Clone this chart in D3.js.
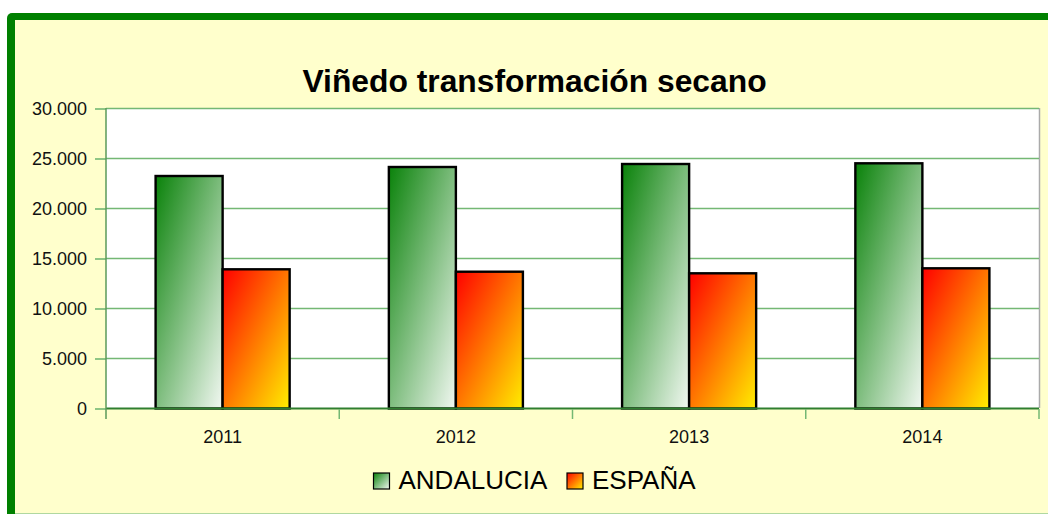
<!DOCTYPE html>
<html><head><meta charset="utf-8">
<script src="https://cdn.jsdelivr.net/npm/d3@7"></script>
<style>html,body{margin:0;padding:0;background:#fff;overflow:hidden}svg{display:block}</style>
</head><body>
<script>
const categories = ["2011","2012","2013","2014"];
const seriesNames = ["ANDALUCIA","ESPAÑA"];
const andalucia = [23250, 24150, 24450, 24520];
const espana = [13920, 13680, 13520, 14020];
const yTicks = [0,5000,10000,15000,20000,25000,30000];
const title = "Viñedo transformación secano";

const W = 1048, H = 514;
const svg = d3.select("body").append("svg").attr("width", W).attr("height", H);
const defs = svg.append("defs");
function grad(id, c0, c1){
  const g = defs.append("linearGradient").attr("id", id)
    .attr("x1",0).attr("y1",0).attr("x2",1).attr("y2",1);
  g.append("stop").attr("offset","0%").attr("stop-color",c0);
  g.append("stop").attr("offset","100%").attr("stop-color",c1);
}
grad("gA", "#0a820a", "#f2f8f2");
grad("gE", "#ff0000", "#ffee00");
const fills = ["url(#gA)", "url(#gE)"];

// frame
svg.append("rect").attr("x",7).attr("y",13).attr("width",1100).attr("height",600)
  .attr("rx",5).attr("fill","#008000");
svg.append("rect").attr("x",15).attr("y",20).attr("width",1100).attr("height",600)
  .attr("fill","#ffffcc");
svg.append("line").attr("x1",15).attr("x2",W).attr("y1",513.5).attr("y2",513.5)
  .attr("stroke","#b0d8a0").attr("stroke-width",1);

const x0 = d3.scaleBand().domain(categories).range([106, 1039]);
const x1 = d3.scaleBand().domain(seriesNames).range([0, x0.bandwidth()]).paddingOuter(0.74);
const y = d3.scaleLinear().domain([0,30000]).range([408.5,108.5]);

// plot area
svg.append("rect").attr("x",106).attr("y",108.5).attr("width",933).attr("height",300)
  .attr("fill","#fff");
svg.append("line").attr("x1",1039.5).attr("x2",1039.5).attr("y1",108).attr("y2",408)
  .attr("stroke","#aaaaaa").attr("stroke-width",1.5);

// gridlines
svg.append("g").selectAll("line").data(yTicks.filter(d=>d>0)).join("line")
  .attr("x1",106).attr("x2",1039).attr("y1",d=>y(d)).attr("y2",d=>y(d))
  .attr("stroke","#74b874").attr("stroke-width",1.6);

// y axis
const yAxis = svg.append("g").attr("transform","translate(106,0)")
  .call(d3.axisLeft(y).tickValues(yTicks).tickSize(11).tickPadding(8)
    .tickFormat(d=>d3.format(",")(d).replace(/,/g,".")));
yAxis.select(".domain").remove();
yAxis.selectAll(".tick line").attr("stroke","#74b874").attr("stroke-width",1.6);
yAxis.selectAll("text").attr("font-family","'Liberation Sans', Arial, sans-serif")
  .attr("font-size",18).attr("fill","#111").attr("dy","0.35em");

// bars
const groups = svg.append("g").selectAll("g").data(categories).join("g")
  .attr("transform", d=>`translate(${x0(d)},0)`);
groups.selectAll("rect").data((d,i)=>[andalucia[i], espana[i]].map((v,j)=>({k:seriesNames[j], v, j})))
  .join("rect")
  .attr("x", d=>x1(d.k)).attr("width", x1.bandwidth())
  .attr("y", d=>y(d.v)).attr("height", d=>y(0)-y(d.v))
  .attr("fill", d=>fills[d.j]).attr("stroke","#000").attr("stroke-width",2.4);

// x axis
svg.append("line").attr("x1",106).attr("x2",1039).attr("y1",408.5).attr("y2",408.5)
  .attr("stroke","#2f7f2f").attr("stroke-width",2);
svg.append("line").attr("x1",106).attr("x2",106).attr("y1",108).attr("y2",419)
  .attr("stroke","#5a9a5a").attr("stroke-width",1.5);
const bounds = categories.map(c=>x0(c)).concat([x0(categories[categories.length-1])+x0.bandwidth()]);
svg.append("g").selectAll("line").data(bounds.slice(1)).join("line")
  .attr("x1",d=>d).attr("x2",d=>d).attr("y1",409).attr("y2",419)
  .attr("stroke","#74b874").attr("stroke-width",1.5);
svg.append("g").selectAll("text").data(categories).join("text")
  .attr("x", d=>x0(d)+x0.bandwidth()/2).attr("y",443)
  .attr("text-anchor","middle").attr("font-family","'Liberation Sans', Arial, sans-serif")
  .attr("font-size",18).attr("fill","#111").text(d=>d);

// title
svg.append("text").attr("x",534.5).attr("y",91.5).attr("text-anchor","middle")
  .attr("font-family","'Liberation Sans', Arial, sans-serif").attr("font-weight","bold")
  .attr("font-size",31.8).attr("fill","#000").text(title);

// legend
const legX = [373.5, 567];
const leg = svg.append("g").selectAll("g").data(seriesNames).join("g")
  .attr("transform",(d,i)=>`translate(${legX[i]},473)`);
leg.append("rect").attr("width",16).attr("height",16)
  .attr("fill",(d,i)=>fills[i]).attr("stroke","#000").attr("stroke-width",1.2);
leg.append("text").attr("x",25).attr("y",16.3)
  .attr("font-family","'Liberation Sans', Arial, sans-serif").attr("font-size",26)
  .attr("fill","#000").text(d=>d);
</script>
</body></html>
